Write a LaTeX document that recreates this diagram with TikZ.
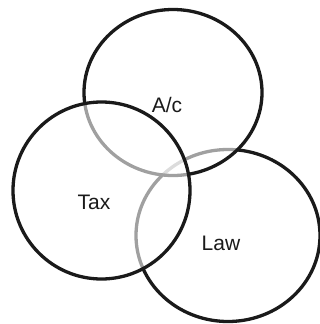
\documentclass[tikz,border=0pt]{standalone}
\usepackage{fontspec}
\setmainfont{Liberation Sans}
\definecolor{ink}{HTML}{1A1A1A}
\definecolor{mid}{HTML}{A0A0A0}
\definecolor{pale}{HTML}{DCDCDC}
\begin{document}
\begin{tikzpicture}[x=1pt,y=-1pt,
  ring/.style={line width=3.3pt},
  lbl/.style={text=ink,font=\fontsize{21}{25}\selectfont,inner sep=0pt}]
\useasboundingbox (0,0) rectangle (320,324);
\def\acpath{(173,92.5) ellipse [x radius=89, y radius=83]}
\def\taxpath{(101.5,190.5) circle [radius=88.5]}
\def\lawpath{(228,235.5) ellipse [x radius=92, y radius=86]}
\def\bigbox{(-200,-200) rectangle (600,600)}
% Law circle (behind both)
\begin{scope}[even odd rule]
  \clip \bigbox \acpath;
  \begin{scope}[even odd rule]
    \clip \bigbox \taxpath;
    \draw[ring,ink] \lawpath;
  \end{scope}
\end{scope}
\begin{scope}
  \clip \acpath;
  \begin{scope}[even odd rule]
    \clip \bigbox \taxpath;
    \draw[ring,mid] \lawpath;
  \end{scope}
\end{scope}
\begin{scope}
  \clip \taxpath;
  \begin{scope}[even odd rule]
    \clip \bigbox \acpath;
    \draw[ring,mid] \lawpath;
  \end{scope}
\end{scope}
\begin{scope}
  \clip \taxpath;
  \clip \acpath;
  \draw[ring,pale] \lawpath;
\end{scope}
% A/c circle (behind Tax)
\begin{scope}[even odd rule]
  \clip \bigbox \taxpath;
  \draw[ring,ink] \acpath;
\end{scope}
\begin{scope}
  \clip \taxpath;
  \draw[ring,mid] \acpath;
\end{scope}
% Tax circle (front)
\draw[ring,ink] \taxpath;
% labels
\node[lbl] (ac) at (167,105) {A/c};
\node[lbl] (tax) at (94,202) {Tax};
\node[lbl] (law) at (221,243) {Law};
\end{tikzpicture}
\end{document}
